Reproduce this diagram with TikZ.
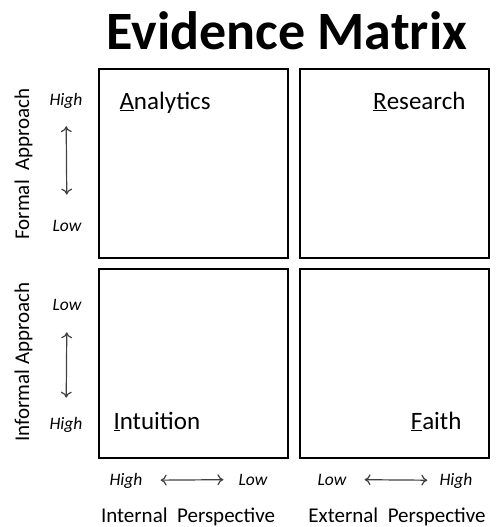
\documentclass[tikz,border=0pt]{standalone}
\usepackage{fontspec}
\setmainfont{Carlito}
\usetikzlibrary{arrows.meta}
\tikzset{
  cell/.style={draw, line width=2pt, minimum width=189pt, minimum height=189pt,
    anchor=north west, inner sep=0pt},
  cellname/.style={font=\fontsize{25}{29}\selectfont},
  level/.style={font=\fontsize{17.5}{20}\selectfont\itshape, anchor=base, inner sep=1pt},
  axisname/.style={font=\fontsize{21}{24}\selectfont, anchor=base},
  dual/.style={{To[length=6pt,width=11pt]}-{To[length=6pt,width=11pt]},
    black!75, line width=1.2pt},
}
\begin{document}
\begin{tikzpicture}[x=1pt, y=-1pt]
  \useasboundingbox (0,0) rectangle (495,527);
  % title
  \node[font=\fontsize{54}{60}\selectfont\bfseries, anchor=base] (title) at (287,50) {Evidence Matrix};
  % the four cells
  \node[cell] (nw) at (98,68) {};
  \node[cell] (ne) at (299,68) {};
  \node[cell] (sw) at (98,268) {};
  \node[cell] (se) at (299,268) {};
  % cell names
  \node[cellname, anchor=base west] (analytics) at (116,109) {\underline{A}nalytics};
  \node[cellname, anchor=base east] (research) at (469,109) {\underline{R}esearch};
  \node[cellname, anchor=base west] (intuition) at (110,429) {\underline{I}ntuition};
  \node[cellname, anchor=base east] (faith) at (465,429) {\underline{F}aith};
  % formal approach axis
  \node[level] (fhigh) at (66,105) {High};
  \node[level] (flow) at (67,231) {Low};
  \draw[dual, shorten <=17pt, shorten >=24pt] (fhigh) -- (flow);
  \node[axisname, rotate=90] (formal) at (29,164) {Formal~~Approach};
  % informal approach axis
  \node[level] (ilow) at (67,310) {Low};
  \node[level] (ihigh) at (66,429) {High};
  \draw[dual, shorten <=21pt, shorten >=18pt] (ilow) -- (ihigh);
  \node[axisname, rotate=90] (informal) at (29,362) {Informal Approach};
  % internal perspective axis
  \node[level] (nhigh) at (126,485) {High};
  \node[level] (nlow) at (253,485) {Low};
  \draw[dual, shorten <=17pt, shorten >=14pt] (nhigh) -- (nlow);
  \node[axisname] (internal) at (188,522) {Internal~~Perspective};
  % external perspective axis
  \node[level] (elow) at (332,485) {Low};
  \node[level] (ehigh) at (456,485) {High};
  \draw[dual, shorten <=17pt, shorten >=11pt] (elow) -- (ehigh);
  \node[axisname] (external) at (397,522) {External~~Perspective};
\end{tikzpicture}
\end{document}
